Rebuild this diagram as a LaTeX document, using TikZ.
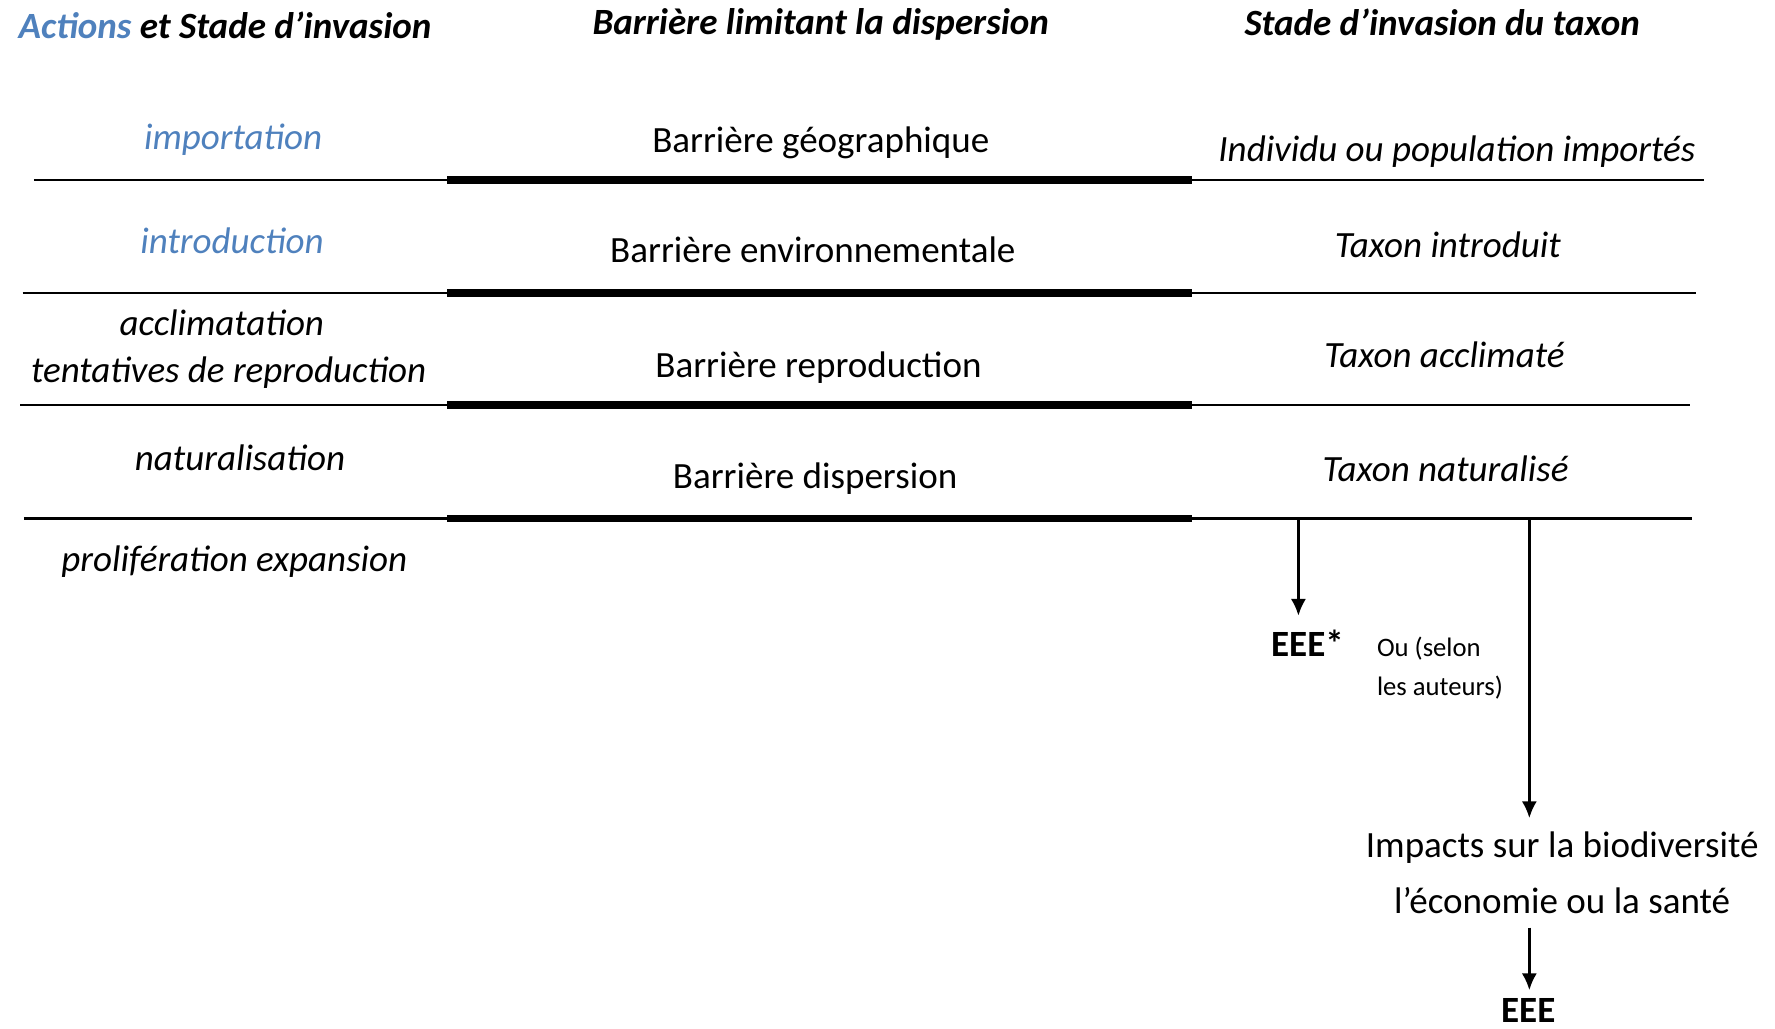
\documentclass[tikz,border=0pt]{standalone}
\usepackage{fontspec}
\setmainfont{Carlito}
\usetikzlibrary{arrows.meta}
\definecolor{actblue}{RGB}{79,129,189}
\tikzset{
  thinline/.style={line width=0.6pt},
  barline/.style={line width=1.9pt},
  down/.style={-{Latex[length=4.2pt,width=3.8pt]}, line width=0.6pt},
  head/.style={font=\fontsize{9.3}{13}\selectfont\bfseries\itshape},
  act/.style={font=\fontsize{9.3}{13}\selectfont\itshape},
}

\begin{document}
\begin{tikzpicture}[x=0.01cm, y=-0.01cm, font=\fontsize{9.3}{13}\selectfont]
    \useasboundingbox (0,0) rectangle (1568,909);
    \node[head, anchor=west] (h1) at (4,22) {\textcolor{actblue}{Actions} et Stade d’invasion};
    \node[head] (h2) at (725,22) {Barrière limitant la dispersion};
    \node[head] (h3) at (1274,20) {Stade d’invasion du taxon};

    \node[act, actblue] (a1) at (206,123) {importation};
    \node (b1) at (725,126) {Barrière géographique};
    \node[act] (t1) at (1287,134) {Individu ou population importés};
    \coordinate (l1) at (30,159);
    \coordinate (m1) at (395,159);
    \coordinate (n1) at (1053,159);
    \coordinate (r1) at (1505,159);
    \draw[thinline] (l1) -- (m1);
    \draw[barline] (m1) -- (n1);
    \draw[thinline] (n1) -- (r1);

    \node[act, actblue] (a2) at (205,213) {introduction};
    \node (b2) at (718,221) {Barrière environnementale};
    \node[act] (t2) at (1279,216) {Taxon introduit};
    \coordinate (l2) at (20,259);
    \coordinate (m2) at (395,259);
    \coordinate (n2) at (1053,259);
    \coordinate (r2) at (1498,259);
    \draw[thinline] (l2) -- (m2);
    \draw[barline] (m2) -- (n2);
    \draw[thinline] (n2) -- (r2);

    \node[act] (a3) at (196,285) {acclimatation};
    \node[act] (a3b) at (202,329) {tentatives de reproduction};
    \node (b3) at (723,325) {Barrière reproduction};
    \node[act] (t3) at (1276,313) {Taxon acclimaté};
    \coordinate (l3) at (18,358);
    \coordinate (m3) at (395,358);
    \coordinate (n3) at (1053,358);
    \coordinate (r3) at (1493,358);
    \draw[thinline] (l3) -- (m3);
    \draw[barline] (m3) -- (n3);
    \draw[thinline] (n3) -- (r3);

    \node[act] (a4) at (212,404) {naturalisation};
    \node (b4) at (720,423) {Barrière dispersion};
    \node[act] (t4) at (1277,414) {Taxon naturalisé};
    \coordinate (l4) at (21,458);
    \coordinate (m4) at (395,458);
    \coordinate (n4) at (1053,458);
    \coordinate (r4) at (1495,458);
    \draw[thinline] (l4) -- (m4);
    \draw[barline] (m4) -- (n4);
    \draw[thinline] (n4) -- (r4);

    \node[act] (a5) at (207,496) {prolifération expansion};

    \coordinate (s1) at (1147,458);
    \coordinate (s2) at (1351,458);
    \node[font=\fontsize{9.3}{13}\selectfont\bfseries] (eee1) at (1155,568) {EEE*};
    \draw[down] (s1) -- (s1 |- eee1.north);
    \node[anchor=west, align=left, font=\fontsize{6.7}{9.7}\selectfont] (ou) at (1204,590) {Ou (selon\\les auteurs)};
    \node[align=center, font=\fontsize{9.3}{13.9}\selectfont] (imp) at (1380,771) {Impacts sur la biodiversité\\l’économie ou la santé};
    \draw[down] (s2) -- (s2 |- imp.north);
    \node[font=\fontsize{9.3}{13}\selectfont\bfseries, inner sep=2pt] (eee2) at (1350,893) {EEE};
    \draw[down] (s2 |- imp.south) -- (s2 |- eee2.north);
\end{tikzpicture}
\end{document}
